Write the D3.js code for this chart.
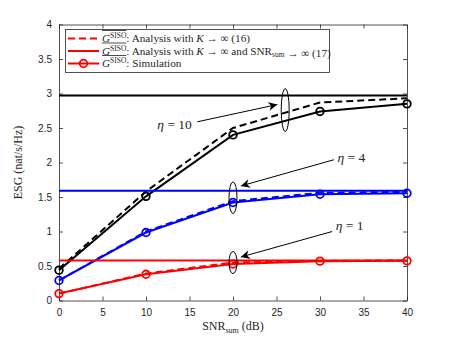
<!DOCTYPE html>
<html>
<head>
<meta charset="utf-8">
<script src="https://cdn.jsdelivr.net/npm/d3@7"></script>
<style>
  body { margin: 0; background: #fff; }
  svg { display: block; }
  .tick text { font-family: "Liberation Sans", Arial, sans-serif; font-size: 10px; fill: #262626; }
  .serif { font-family: "Liberation Serif", "DejaVu Serif", serif; fill: #262626; }
</style>
</head>
<body>
<svg id="chart" width="450" height="338"></svg>
<script>
const snr = [0, 10, 20, 30, 40];
const xTicks = [0, 5, 10, 15, 20, 25, 30, 35, 40];
const yTicks = [0, 0.5, 1, 1.5, 2, 2.5, 3, 3.5, 4];

// eta = 10 (black), eta = 4 (blue), eta = 1 (red)
const sim10 = [0.44, 1.51, 2.40, 2.74, 2.85];
const ana10 = [0.46, 1.58, 2.50, 2.87, 2.93];
const lim10 = 2.97;
const sim4 = [0.29, 0.985, 1.42, 1.54, 1.555];
const ana4 = [0.29, 1.0, 1.44, 1.56, 1.575];
const lim4 = 1.59;
const sim1 = [0.10, 0.38, 0.53, 0.57, 0.575];
const ana1 = [0.10, 0.39, 0.55, 0.575, 0.58];
const lim1 = 0.58;

const groups = [
  { color: "#000000", sim: sim10, ana: ana10, lim: lim10 },
  { color: "#0000ff", sim: sim4, ana: ana4, lim: lim4 },
  { color: "#ff0000", sim: sim1, ana: ana1, lim: lim1 }
];

// annotations (data units): ellipse center / radius, label, arrow
const notes = [
  { label: "10", cx: 26, cy: 2.76, ry: 0.31, tx: 11.3, ty: 2.49, ax0: 15.9, ay0: 2.59, ax1: 25.1, ay1: 2.84 },
  { label: "4", cx: 20, cy: 1.49, ry: 0.23, tx: 32.0, ty: 2.01, ax0: 31.6, ay0: 2.04, ax1: 20.9, ay1: 1.66 },
  { label: "1", cx: 20, cy: 0.55, ry: 0.16, tx: 31.8, ty: 1.02, ax0: 31.4, ay0: 1.0, ax1: 20.9, ay1: 0.63 }
];

const margin = { left: 59, right: 43, top: 24.5, bottom: 37.5 };
const W = 450, H = 338;
const svg = d3.select("#chart");

const x = d3.scaleLinear().domain([0, 40]).range([margin.left, W - margin.right]);
const y = d3.scaleLinear().domain([0, 4]).range([H - margin.bottom, margin.top]);

// defs: arrow head
svg.append("defs").append("marker")
  .attr("id", "arrow")
  .attr("viewBox", "0 0 10 10")
  .attr("refX", 10).attr("refY", 5)
  .attr("markerWidth", 9).attr("markerHeight", 9)
  .attr("markerUnits", "userSpaceOnUse")
  .attr("orient", "auto")
  .append("path")
  .attr("d", "M0,0 L10,5 L0,10 L3,5 Z")
  .attr("fill", "#000");

// axes
const axisColor = "#262626";
function styleAxis(g) {
  g.select(".domain").attr("stroke", axisColor).attr("stroke-width", 0.8);
  g.selectAll(".tick line").attr("stroke", axisColor).attr("stroke-width", 0.8);
}
svg.append("g").attr("transform", `translate(0,${y(0)})`)
  .call(d3.axisBottom(x).tickValues(xTicks).tickSizeInner(-4).tickSizeOuter(0).tickPadding(8).tickFormat(d3.format("d")))
  .call(styleAxis);
svg.append("g").attr("transform", `translate(0,${y(4)})`)
  .call(d3.axisTop(x).tickValues(xTicks).tickSizeInner(-4).tickSizeOuter(0).tickFormat(""))
  .call(styleAxis);
svg.append("g").attr("transform", `translate(${x(0)},0)`)
  .call(d3.axisLeft(y).tickValues(yTicks).tickSizeInner(-4).tickSizeOuter(0).tickPadding(7).tickFormat(d => d))
  .call(styleAxis);
svg.append("g").attr("transform", `translate(${x(40)},0)`)
  .call(d3.axisRight(y).tickValues(yTicks).tickSizeInner(-4).tickSizeOuter(0).tickFormat(""))
  .call(styleAxis);

// series
const line = d3.line().x((d, i) => x(snr[i])).y(d => y(d));
const plot = svg.append("g");
groups.forEach(g => {
  plot.append("line")
    .attr("x1", x(0)).attr("x2", x(40))
    .attr("y1", y(g.lim)).attr("y2", y(g.lim))
    .attr("stroke", g.color).attr("stroke-width", 2);
  plot.append("path").datum(g.ana)
    .attr("d", line).attr("fill", "none")
    .attr("stroke", g.color).attr("stroke-width", 2)
    .attr("stroke-dasharray", "7,4");
  plot.append("path").datum(g.sim)
    .attr("d", line).attr("fill", "none")
    .attr("stroke", g.color).attr("stroke-width", 2);
  plot.selectAll(null).data(g.sim).enter().append("circle")
    .attr("cx", (d, i) => x(snr[i])).attr("cy", d => y(d))
    .attr("r", 3.8).attr("fill", "none")
    .attr("stroke", g.color).attr("stroke-width", 1.8);
});

// annotations
const ann = svg.append("g");
notes.forEach(n => {
  ann.append("ellipse")
    .attr("cx", x(n.cx)).attr("cy", y(n.cy))
    .attr("rx", 4).attr("ry", y(0) - y(n.ry))
    .attr("fill", "none").attr("stroke", "#000").attr("stroke-width", 1);
  ann.append("line")
    .attr("x1", x(n.ax0)).attr("y1", y(n.ay0))
    .attr("x2", x(n.ax1)).attr("y2", y(n.ay1))
    .attr("stroke", "#000").attr("stroke-width", 1)
    .attr("marker-end", "url(#arrow)");
  const t = ann.append("text").attr("class", "serif")
    .attr("x", x(n.tx)).attr("y", y(n.ty))
    .attr("font-size", 13.5).attr("fill", "#000");
  t.append("tspan").attr("font-style", "italic").text("η");
  t.append("tspan").text(" = " + n.label);
});

// axis labels
const xl = svg.append("text").attr("class", "serif")
  .attr("x", (x(0) + x(40)) / 2).attr("y", 330)
  .attr("text-anchor", "middle").attr("font-size", 12);
xl.append("tspan").text("SNR");
xl.append("tspan").attr("font-size", 8).attr("dy", 3).text("sum");
xl.append("tspan").attr("dy", -3).text(" (dB)");

svg.append("text").attr("class", "serif")
  .attr("transform", `translate(22,${(y(0) + y(4)) / 2}) rotate(-90)`)
  .attr("text-anchor", "middle").attr("font-size", 12)
  .text("ESG (nat/s/Hz)");

// legend
const legend = svg.append("g");
legend.append("rect")
  .attr("x", 65.5).attr("y", 29.5).attr("width", 264).attr("height", 43)
  .attr("fill", "#fff").attr("stroke", axisColor).attr("stroke-width", 0.8);
const legendItems = [
  { dash: "7,4", marker: false, text: ": Analysis with ", rest: [["K", true], [" → ∞ (16)", false]] },
  { dash: null, marker: false, text: ": Analysis with ", rest: [["K", true], [" → ∞ and SNR", false], ["sum", "sub"], [" → ∞ (17)", false]] },
  { dash: null, marker: true, text: ": Simulation", rest: [] }
];
legendItems.forEach((it, i) => {
  const ly = 38.5 + i * 12.5;
  legend.append("line")
    .attr("x1", 68).attr("x2", 99).attr("y1", ly).attr("y2", ly)
    .attr("stroke", "#ff0000").attr("stroke-width", 2)
    .attr("stroke-dasharray", it.dash);
  if (it.marker) {
    legend.append("circle").attr("cx", 83.5).attr("cy", ly).attr("r", 3.8)
      .attr("fill", "none").attr("stroke", "#ff0000").attr("stroke-width", 1.8);
  }
  const t = legend.append("text").attr("class", "serif")
    .attr("x", 102).attr("y", ly + 3.5).attr("font-size", 11.2).attr("fill", "#000");
  t.append("tspan").attr("font-style", "italic").text("G");
  t.append("tspan").attr("font-size", 7.5).attr("dy", -4).text("SISO");
  t.append("tspan").attr("dy", 4).text(it.text);
  it.rest.forEach(([s, k]) => {
    if (k === "sub") {
      t.append("tspan").attr("font-size", 7.5).attr("dy", 2.5).text(s);
      t.append("tspan").attr("dy", -2.5).text("");
    } else {
      t.append("tspan").attr("font-style", k ? "italic" : null).text(s);
    }
  });
  // overline over G^SISO
  const w = t.node().getSubStringLength(0, 5);
  legend.append("line")
    .attr("x1", 102).attr("x2", 102 + w)
    .attr("y1", ly - 8).attr("y2", ly - 8)
    .attr("stroke", "#000").attr("stroke-width", 0.7);
});
</script>
</body>
</html>
